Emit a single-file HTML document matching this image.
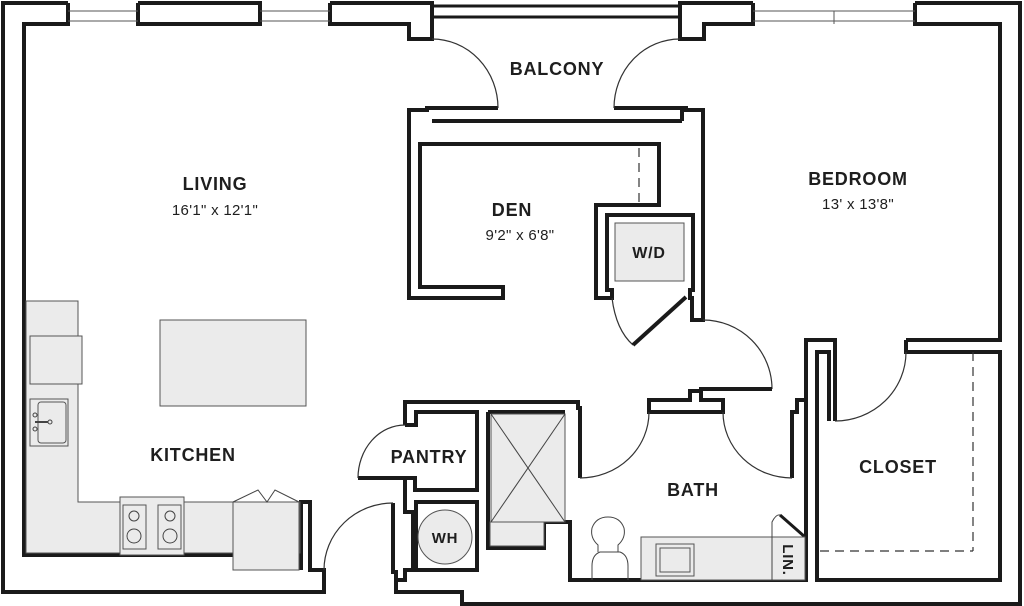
<!DOCTYPE html>
<html><head><meta charset="utf-8"><style>
html,body{margin:0;padding:0;background:#fff;}
svg{display:block;}
text{font-family:"Liberation Sans",sans-serif;fill:#1e1e1e;text-anchor:middle;}
.b{font-weight:bold;font-size:18px;letter-spacing:0.8px;}
.d{font-size:15px;letter-spacing:0.3px;}
</style></head><body>
<svg width="1024" height="606" viewBox="0 0 1024 606" xmlns="http://www.w3.org/2000/svg">
<g fill="none" stroke="#1a1a1a" stroke-width="4" stroke-linejoin="miter">
<!-- outer boundary -->
<polyline points="68,3 3,3 3,592 324,592 324,570 310,570 310,502 301,502 301,570"/>
<polyline points="393,503 393,572 396,572 396,592 462,592 462,604 1020,604 1020,3 915,3"/>
<!-- top walls -->
<polyline points="138,3 260,3 260,24 138,24 138,3"/>
<polyline points="68,3 68,24 24,24 24,555 233,555"/>
<polyline points="330,3 432,3 432,39 409,39 409,24 330,24 330,3"/>
<polyline points="753,3 680,3 680,39 704,39 704,24 753,24 753,3"/>
<polyline points="915,3 915,24 1000,24 1000,340 906,340"/>
<!-- balcony -->
<line x1="432" y1="6" x2="680" y2="6" stroke-width="3"/>
<line x1="432" y1="17" x2="680" y2="17" stroke-width="3"/>
<polyline points="498,108 427,108 427,110 409,110 409,298 503,298 503,287 420,287 420,144 659,144 659,205 596,205 596,298 612,298 612,290 607,290 607,215 693,215 693,290 690,290 690,298 692,298 692,320 703,320 703,110 686,110 686,108 614,108"/>
<line x1="432" y1="121" x2="682" y2="121"/>
<line x1="682" y1="108" x2="682" y2="121"/>
<!-- bath top -->
<polyline points="772,389 701,389 701,400 723,400 723,412 649,412 649,400 690,400 690,391 701,391"/>
<!-- bath left / shower -->
<polyline points="580,478 580,408 578,408 578,402 405,402 405,425"/>
<polyline points="405,478 405,512 413,512 413,570 405,570 405,580 396,580"/>
<polyline points="358,478 415,478 415,490 477,490 477,412 416,412 416,425 405,425"/>
<rect x="416" y="502" width="61" height="68"/>
<polyline points="488,412 488,548 544,548 544,522 570,522 570,580 808,580"/>
<polyline points="488,412 565,412"/>
<!-- right side -->
<polyline points="792,478 792,412 797,412 797,400 806,400 806,340 835,340 835,421"/>
<polyline points="817,582 817,352 829,352 829,421"/>
<polyline points="806,400 806,582"/>
<polyline points="906,340 906,352 1000,352 1000,580 817,580"/>
</g>
<!-- windows -->
<g stroke="#555" stroke-width="1">
<line x1="68" y1="11" x2="138" y2="11"/><line x1="68" y1="21" x2="138" y2="21"/>
<line x1="260" y1="11" x2="330" y2="11"/><line x1="260" y1="21" x2="330" y2="21"/>
<line x1="753" y1="11" x2="915" y2="11"/><line x1="753" y1="21" x2="915" y2="21"/>
<line x1="834" y1="11" x2="834" y2="24"/>
</g>
<!-- door arcs -->
<g fill="none" stroke="#333" stroke-width="1.2">
<path d="M432,39 A66,69 0 0 1 498,108"/>
<path d="M680,39 A66,69 0 0 0 614,108"/>
<path d="M612,298 Q616,330 633,345"/>
<path d="M703,320 A69,69 0 0 1 772,389"/>
<path d="M649,412 A69,66 0 0 1 580,478"/>
<path d="M723,412 A69,66 0 0 0 792,478"/>
<path d="M835,421 A71,69 0 0 0 906,352"/>
<path d="M405,425 A47,53 0 0 0 358,478"/>
<path d="M393,503 A69,67 0 0 0 324,570"/>
<line x1="639" y1="148" x2="639" y2="203" stroke-dasharray="9,6"/>
<line x1="973" y1="352" x2="973" y2="551" stroke-dasharray="9,6"/>
<line x1="820" y1="551" x2="973" y2="551" stroke-dasharray="9,6"/>
</g>
<g stroke="#1a1a1a" stroke-width="4">
<line x1="686" y1="297" x2="633" y2="345"/>
<line x1="780" y1="515" x2="805" y2="537" stroke-width="3"/>
<line x1="772" y1="389" x2="703" y2="389"/>
</g>
<!-- kitchen -->
<g fill="#ebebeb" stroke="#555" stroke-width="1">
<path d="M26,301 L78,301 L78,502 L300,502 L300,553 L26,553 Z"/>
<rect x="30" y="336" width="52" height="48"/>
<rect x="30" y="399" width="38" height="47"/>
<rect x="38" y="402" width="28" height="41" rx="3"/>
<rect x="120" y="497" width="64" height="58"/>
<rect x="123" y="505" width="23" height="44"/><rect x="158" y="505" width="23" height="44"/>
<rect x="233" y="502" width="66" height="68"/>
<rect x="160" y="320" width="146" height="86"/>
<rect x="491" y="414" width="74" height="108"/>
<rect x="490" y="522" width="54" height="24"/>
<rect x="615" y="223" width="69" height="58"/>
<circle cx="445" cy="537" r="27"/>
<rect x="641" y="537" width="164" height="43"/>
<rect x="656" y="544" width="38" height="32"/>
<rect x="660" y="548" width="30" height="24" fill="none"/>
</g>
<g fill="none" stroke="#444" stroke-width="1">
<circle cx="134" cy="516" r="5"/><circle cx="134" cy="536" r="7"/>
<circle cx="170" cy="516" r="5"/><circle cx="170" cy="536" r="7"/>
<circle cx="35" cy="415" r="2"/><circle cx="35" cy="429" r="2"/><circle cx="50" cy="422" r="2"/>
<line x1="35" y1="422" x2="48" y2="422" stroke-width="2"/>
<path d="M233,502 L258,490 L267,502 L275,490 L299,502"/>
<line x1="491" y1="414" x2="565" y2="522"/><line x1="565" y1="414" x2="491" y2="522"/>
<line x1="772" y1="537" x2="772" y2="580"/>
<path d="M772,537 L772,522 Q776,514 780,515"/>
<path d="M592,580 L592,566 Q592,555 600,552 L620,552 Q628,555 628,566 L628,580"/>
<path d="M598,552 L598,545 Q590,538 592,528 Q596,517 608,517 Q620,517 624,528 Q626,538 618,545 L618,552"/>
</g>
<!-- labels -->
<text class="b" x="215" y="190">LIVING</text>
<text class="d" x="215" y="215">16'1" x 12'1"</text>
<text class="b" x="557" y="75">BALCONY</text>
<text class="b" x="512" y="216">DEN</text>
<text class="d" x="520" y="240">9'2" x 6'8"</text>
<text class="b" x="649" y="258" style="font-size:16px">W/D</text>
<text class="b" x="858" y="185">BEDROOM</text>
<text class="d" x="858" y="209">13' x 13'8"</text>
<text class="b" x="193" y="461">KITCHEN</text>
<text class="b" x="429" y="463">PANTRY</text>
<text class="b" x="445" y="543" style="font-size:15px">WH</text>
<text class="b" x="693" y="496">BATH</text>
<text class="b" x="898" y="473">CLOSET</text>
<text class="b" x="0" y="0" style="font-size:15px" transform="translate(783,560) rotate(90)">LIN.</text>
</svg>
</body></html>
